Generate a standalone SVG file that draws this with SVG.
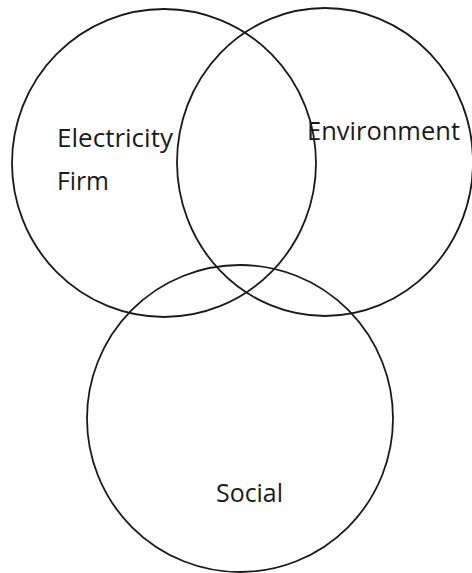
<svg xmlns="http://www.w3.org/2000/svg" width="472" height="573" viewBox="0 0 472 573">
<style>
.c{fill:none;stroke:#1a1a1a;stroke-width:1.8}
.t{font-family:"Open Sans","Noto Sans",sans-serif;font-size:25px;fill:#1a1a1a}
</style>
<rect width="472" height="573" fill="#ffffff"/>
<g id="electricity-firm">
<ellipse class="c" cx="164" cy="163" rx="152" ry="154"/>
<text class="t" x="57" y="147" textLength="116" lengthAdjust="spacingAndGlyphs">Electricity</text>
<text class="t" x="57" y="190" textLength="52" lengthAdjust="spacingAndGlyphs">Firm</text>
</g>
<g id="environment">
<ellipse class="c" cx="325" cy="162" rx="148" ry="154"/>
<text class="t" x="307" y="140" textLength="153" lengthAdjust="spacingAndGlyphs">Environment</text>
</g>
<g id="social">
<ellipse class="c" cx="240" cy="418.5" rx="153" ry="153.5"/>
<text class="t" x="216" y="502" textLength="67" lengthAdjust="spacingAndGlyphs">Social</text>
</g>
<g id="connectors"/>
</svg>
